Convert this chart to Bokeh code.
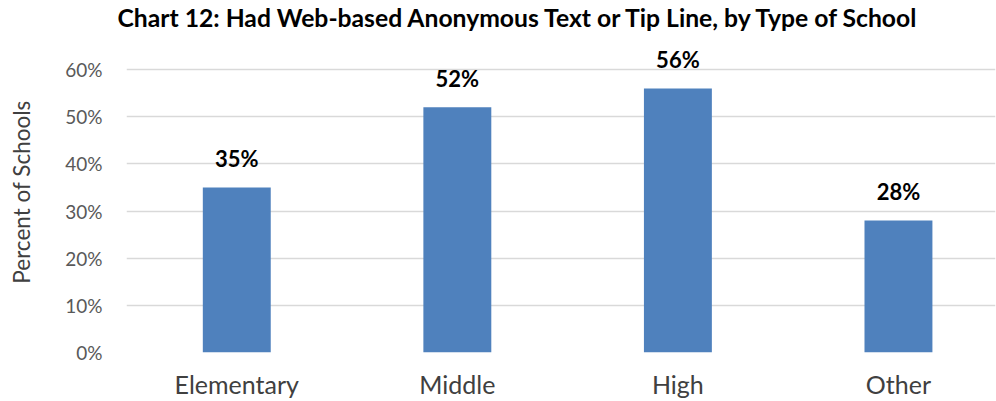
from bokeh.plotting import figure
from bokeh.models import ColumnDataSource, Range1d, FixedTicker, PrintfTickFormatter
from bokeh.core.properties import value
from bokeh.embed import file_html
from bokeh.resources import INLINE

categories = ["Elementary", "Middle", "High", "Other"]
percents = [35, 52, 56, 28]
labels = ["35%", "52%", "56%", "28%"]
y_ticks = [0, 10, 20, 30, 40, 50, 60]

FONT = "Lato"

xpos = [i + 0.5 for i in range(len(categories))]
src = ColumnDataSource(dict(x=xpos, cat=categories, val=percents, lab=labels))

p = figure(
    width=996, height=401,
    x_range=Range1d(0, 3.94),
    y_range=Range1d(0, 68.06),
    output_backend="svg", toolbar_location=None,
    title="Chart 12: Had Web-based Anonymous Text or Tip Line, by Type of School",
    min_border_left=126, min_border_right=1, min_border_bottom=49, min_border_top=4,
)
p.outline_line_color = None
p.background_fill_color = "white"
p.border_fill_color = "white"

p.title.text_font = FONT
p.title.text_font_size = "24.7px"
p.title.text_font_style = "bold"
p.title.text_color = "black"
p.title.align = "left"
p.title.offset = -9
p.title.standoff = 0

p.vbar(x="x", top="val", width=0.308, source=src, fill_color="#4F81BD", line_color=None)
p.text(x="x", y="val", text="lab", source=src, text_align="center", text_baseline="bottom",
       y_offset=-15, text_font=value(FONT), text_font_size="22px", text_font_style="bold",
       text_color="black")

p.yaxis.ticker = FixedTicker(ticks=y_ticks)
p.yaxis.formatter = PrintfTickFormatter(format="%d%%")
p.yaxis.axis_line_color = None
p.yaxis.major_tick_line_color = None
p.yaxis.minor_tick_line_color = None
p.yaxis.major_tick_out = 0
p.yaxis.major_tick_in = 0
p.yaxis.minor_tick_out = 0
p.yaxis.major_label_standoff = 24
p.yaxis.major_label_text_font = FONT
p.yaxis.major_label_text_font_size = "19px"
p.yaxis.major_label_text_color = "#595959"
p.yaxis.axis_label = "Percent of Schools"
p.yaxis.axis_label_text_font = FONT
p.yaxis.axis_label_text_font_size = "22.5px"
p.yaxis.axis_label_text_font_style = "normal"
p.yaxis.axis_label_text_color = "#404040"
p.yaxis.axis_label_standoff = 27

p.xaxis.ticker = FixedTicker(ticks=xpos)
p.xaxis.major_label_overrides = {x: c for x, c in zip(xpos, categories)}
p.xaxis.axis_line_color = None
p.xaxis.major_tick_line_color = None
p.xaxis.minor_tick_line_color = None
p.xaxis.major_tick_out = 0
p.xaxis.major_tick_in = 0
p.xaxis.minor_tick_out = 0
p.xaxis.major_label_standoff = 16
p.xaxis.major_label_text_font = FONT
p.xaxis.major_label_text_font_size = "25px"
p.xaxis.major_label_text_color = "#404040"

p.xgrid.grid_line_color = None
p.ygrid.grid_line_color = "#D9D9D9"
p.ygrid.grid_line_width = 1.5

open("out.html", "w").write(file_html(p, INLINE))
